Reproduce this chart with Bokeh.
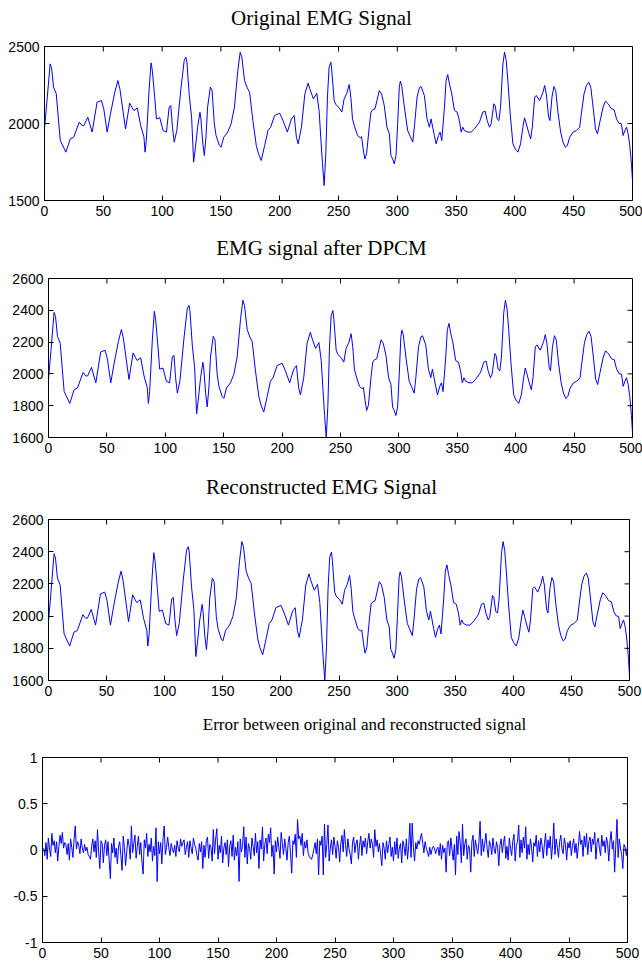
import math
from bokeh.plotting import figure
from bokeh.layouts import column, row
from bokeh.models import LinearAxis, FixedTicker, Range1d, Label
from bokeh.embed import file_html
from bokeh.resources import INLINE

# ---------------- data ----------------
titles = ["Original EMG Signal", "EMG signal after DPCM",
          "Reconstructed EMG Signal", "Error between original and reconstructed signal"]

x_ticks = [0, 50, 100, 150, 200, 250, 300, 350, 400, 450, 500]
y_ticks_orig = [1500, 2000, 2500]
y_ticks_dpcm = [1600, 1800, 2000, 2200, 2400, 2600]
y_ticks_err = [-1, -0.5, 0, 0.5, 1]
y_labels_err = ["-1", "-0.5", "0", "0.5", "1"]

emg_t = [0, 2, 4.8, 6, 7.7, 10, 13.4, 18.2, 21.9, 24.8, 29.6, 31.9, 33.5, 36.8, 40.5,
         44.7, 48.4, 50.4, 53.3, 56.1, 59.8, 62.4, 64.1, 68.9, 72.4, 74.6, 76, 78.9,
         81.8, 84.6, 85.5, 86.6, 88.9, 90.6, 91.7, 93.7, 95.2, 98, 100.9, 103.7, 106,
         107.4, 108.8, 110.3, 112.5, 116, 118.8, 120.2, 121.1, 123.1, 125.1, 126.8,
         128.2, 130.2, 132.2, 133, 134.5, 135.9, 137.3, 138.7, 141, 142.5, 144.4, 145.9,
         148.7, 150.1, 152.4, 155.8, 158.7, 161.5, 164.4, 166.4, 167.8, 170.1, 172.4,
         174.4, 177.2, 180.1, 182, 184.3, 187.2, 190, 192.3, 195.7, 200, 202.8, 206.5,
         210, 212.3, 214.2, 215.7, 218.5, 221.4, 224.2, 225.6, 228.7, 231.5, 233.5,
         234.9, 236.4, 237.8, 239.2, 240.6, 242, 243.5, 244.3, 246.3, 247.7, 250.6,
         252.8, 254.8, 257.1, 259.1, 260.5, 261.9, 263.4, 266.2, 268.5, 269.6, 271,
         272.4, 273.9, 276.1, 277.6, 279, 281, 282.7, 284.7, 286.6, 288.9, 291.2, 293.2,
         294.6, 296, 297.4, 298.9, 300.3, 301.7, 302.6, 303.7, 306, 308.8, 311.1, 313.1,
         314.5, 316.8, 318.8, 320.2, 323, 325.3, 327.3, 328.7, 330.1, 331.5, 333, 335,
         336.4, 337.8, 340.1, 341.5, 342.9, 344.3, 346.3, 348.6, 350.9, 352.8, 354.3,
         355.7, 357.1, 360, 362.8, 365.6, 369.9, 372.7, 374.7, 376.4, 378.4, 379.8,
         382.1, 383.2, 384.9, 386.4, 387.8, 389.8, 391.2, 392.6, 394, 396, 398.3, 400.3,
         402.6, 404.8, 406.8, 408.2, 409.7, 411.6, 413.4, 414.8, 416.8, 418.2, 421,
         423.9, 425.3, 426.7, 428.7, 429.8, 431.5, 433.2, 434.7, 436.6, 438.9, 440.9,
         442.9, 444.6, 446.6, 449.4, 452.3, 455.1, 456.5, 458.8, 460.8, 462.8, 464.5,
         466.5, 468.5, 470.2, 472.2, 475, 477, 479.3, 482.1, 484.4, 486.4, 488.4, 490.6,
         492, 493.5, 494.9, 496.3, 497.7, 499.1, 500]

emg_v = [1965, 2138, 2387, 2361, 2236, 2193, 1890, 1814, 1900, 1911, 2009, 1987, 1987,
         2041, 1944, 2138, 2149, 2095, 1944, 2063, 2203, 2279, 2225, 1965, 2132, 2101,
         2084, 2101, 1987, 1911, 1814, 1889, 2214, 2394, 2344, 2171, 2030, 2037, 1954,
         1944, 2106, 2117, 1976, 1879, 1954, 2225, 2409, 2431, 2398, 2182, 2041, 1749,
         1835, 1976, 2073, 2030, 1879, 1792, 1911, 2106, 2236, 2214, 1998, 1922, 1857,
         1846, 1911, 1944, 1998, 2106, 2344, 2463, 2431, 2279, 2232, 2203, 2019, 1857,
         1803, 1760, 1857, 1954, 1976, 2052, 2067, 2019, 1944, 2030, 2052, 1911, 1868,
         1976, 2193, 2262, 2225, 2160, 2197, 2084, 1911, 1738, 1597, 1803, 2171, 2366,
         2398, 2344, 2149, 2123, 2102, 2074, 2160, 2197, 2253, 2171, 2030, 1987, 1922,
         1907, 1915, 1835, 1770, 1803, 1976, 2074, 2089, 2095, 2149, 2214, 2193, 2117,
         1976, 1933, 1792, 1770, 1738, 1792, 1998, 2236, 2275, 2247, 2106, 1954, 1915,
         1879, 1976, 2171, 2232, 2240, 2182, 2030, 1976, 2030, 1976, 1922, 1868, 1922,
         1944, 1889, 2106, 2279, 2318, 2258, 2193, 2084, 2074, 2019, 1944, 1976, 1954,
         1944, 1944, 1965, 2009, 2074, 2080, 2019, 1976, 1998, 2128, 2117, 2030, 2019,
         2106, 2387, 2463, 2409, 2279, 2063, 1868, 1835, 1814, 1868, 1976, 2037, 1998,
         1944, 1900, 1976, 2171, 2182, 2149, 2203, 2247, 2193, 2041, 2019, 2171, 2240,
         2214, 2074, 1944, 1879, 1846, 1857, 1911, 1944, 1954, 1976, 2063, 2193, 2247,
         2268, 2236, 2106, 1965, 1933, 2009, 2106, 2145, 2128, 2095, 2089, 2030, 2002,
         1998, 1922, 1954, 1976, 1933, 1857, 1738, 1630]

err_v = [0.02, -0.06, 0.08, -0.1, 0.13, 0.01, -0.07, 0.18, 0.05, 0.1,
         -0.03, 0.09, -0.12, 0.04, 0.16, 0.07, 0.19, 0.02, 0.08, 0.06,
         -0.05, 0.07, -0.11, 0.12, 0.03, -0.08, 0.11, 0.26, 0.01, 0.09,
         0.05, -0.04, 0.12, 0.02, -0.03, 0.06, -0.01, 0.03, -0.05, -0.07,
         -0.1, 0.04, 0.12, -0.02, 0.1, -0.08, 0.22, -0.02, -0.2, 0.1,
         0.07, -0.14, 0.05, 0.11, -0.06, 0.09, -0.12, -0.31, 0.07, -0.03,
         0.13, -0.08, 0.02, -0.15, 0.04, 0.09, -0.06, -0.22, 0.15, 0.03,
         -0.17, -0.02, 0.12, 0.05, -0.1, 0.26, -0.03, 0.07, 0.16, -0.09,
         0.04, 0.15, -0.05, 0.08, -0.13, -0.26, 0.11, 0.02, 0.18, -0.07,
         0.06, -0.02, 0.13, -0.12, 0.04, -0.06, 0.24, -0.34, 0.09, -0.04,
         0.08, -0.15, 0.12, 0.26, -0.05, 0.03, 0.14, 0.02, -0.06, 0.07,
         0.01, -0.03, 0.05, -0.07, 0.1, 0.02, -0.02, 0.12, 0.04, 0.08,
         0.11, -0.05, 0.03, 0.09, -0.08, 0.1, 0.02, -0.04, 0.13, 0.06,
         0.02, -0.06, -0.11, 0.07, -0.02, 0.09, -0.2, 0.05, -0.08, 0.1,
         0.14, -0.09, 0.06, 0.03, -0.12, 0.22, -0.04, 0.12, 0.23, -0.1,
         0.05, -0.03, 0.15, -0.14, 0.02, 0.08, -0.05, 0.11, -0.18, 0.04,
         0.1, -0.07, 0.16, -0.11, 0.03, -0.06, 0.09, -0.34, 0.12, -0.02,
         0.05, 0.25, -0.08, 0.14, -0.15, 0.07, 0.02, -0.1, 0.13, 0.04,
         -0.06, 0.18, -0.03, 0.09, -0.2, 0.11, 0.01, 0.25, -0.12, 0.06,
         0.13, -0.04, 0.17, 0.08, 0.24, -0.07, 0.05, -0.26, 0.1, -0.02,
         0.14, 0.03, -0.09, 0.19, 0.07, -0.05, 0.12, 0.02, -0.11, 0.08,
         0.15, -0.04, -0.25, 0.1, 0.06, 0.17, -0.08, 0.33, 0.12, 0.15,
         0.05, 0.18, -0.06, 0.09, 0.02, 0.11, -0.03, -0.07, -0.09, -0.1,
         -0.05, 0.01, 0.08, -0.04, 0.12, -0.27, 0.1, 0.05, 0.15, -0.27,
         0.28, -0.08, 0.06, 0.27, -0.12, 0.02, 0.11, -0.05, 0.14, 0.04,
         -0.09, 0.1, 0.03, -0.13, 0.08, 0.16, -0.02, 0.22, 0.06, -0.07,
         0.12, 0.01, -0.05, -0.15, 0.09, 0.14, -0.03, 0.07, 0.11, -0.1,
         0.05, 0.15, -0.06, 0.1, 0.03, 0.13, -0.04, 0.09, 0.18, 0.02,
         0.12, 0.06, -0.08, 0.22, 0.04, 0.11, -0.02, 0.07, -0.05, -0.17,
         0.08, 0.02, -0.1, 0.1, -0.03, 0.06, 0.14, -0.07, 0.03, -0.12,
         0.09, -0.05, 0.13, -0.09, 0.02, 0.07, -0.14, 0.1, 0.04, -0.06,
         0.12, -0.1, 0.05, 0.29, -0.08, 0.29, 0.03, -0.12, 0.08, 0.01,
         0.1, 0.06, 0.13, 0.18, 0.07, -0.03, 0.09, 0.02, -0.02, -0.07,
         0.03, -0.05, 0.01, 0.04, 0.02, -0.04, 0.01, 0.03, -0.06, 0.07,
         -0.1, 0.05, -0.03, 0.02, -0.24, 0.08, 0.1, -0.06, 0.13, 0.01,
         -0.11, 0.06, -0.27, 0.15, -0.05, 0.2, 0.08, -0.14, 0.28, -0.06,
         0.07, 0.12, -0.1, 0.05, 0.02, -0.24, 0.09, 0.16, -0.07, 0.11,
         0.03, -0.04, 0.08, 0.31, -0.06, 0.12, -0.02, 0.07, 0.18, 0.02,
         -0.08, 0.1, 0.05, -0.05, 0.13, 0.01, -0.04, 0.09, 0.03, -0.17,
         0.06, 0.12, -0.03, 0.08, 0.15, -0.09, 0.04, -0.11, 0.13, 0.02,
         -0.06, 0.1, 0.17, -0.12, 0.05, 0.09, 0.27, -0.08, 0.11, -0.03,
         0.14, 0.02, 0.25, -0.1, 0.06, -0.05, 0.12, 0.03, -0.13, 0.08,
         0.04, 0.16, -0.07, 0.1, -0.02, 0.13, 0.05, -0.09, 0.07, 0.18,
         -0.06, 0.11, 0.02, 0.15, -0.1, 0.06, 0.29, -0.05, 0.12, 0.03,
         -0.08, 0.09, 0.16, 0.01, -0.04, 0.13, 0.06, -0.11, 0.08, 0.02,
         0.1, -0.06, 0.05, 0.12, -0.03, 0.07, -0.09, 0.04, 0.2, 0.06,
         0.11, -0.07, 0.15, 0.03, 0.18, -0.05, 0.09, 0.14, -0.02, 0.12,
         0.06, 0.19, -0.1, 0.08, 0.13, 0.02, -0.06, 0.16, 0.04, 0.1,
         -0.03, 0.14, 0.07, -0.12, 0.09, 0.2, 0.01, 0.1, -0.24, 0.05,
         0.33, -0.08, 0.12, 0.02, -0.05, -0.2, 0.06, 0.03, -0.06, 0.04]
err_t = list(range(1, len(err_v) + 1))

LINE_COLOR = "#0000ff"
TICK_FONT = "Liberation Sans"
TITLE_FONT = "Liberation Serif"
TITLE_LEFT = 48
TITLE_FW = 584


def style_axis(ax, ticks, standoff=3, overrides=None):
    ax.ticker = FixedTicker(ticks=ticks)
    ax.major_tick_in = 5
    ax.major_tick_out = 0
    ax.minor_tick_in = 0
    ax.minor_tick_out = 0
    ax.axis_line_color = "black"
    ax.major_tick_line_color = "black"
    ax.major_label_text_font = TICK_FONT
    ax.major_label_text_color = "black"
    ax.major_label_text_font_size = "14px"
    ax.major_label_standoff = standoff
    if overrides:
        ax.major_label_overrides = overrides


def make_title(text, tsize, h, center_from_top, center_x):
    t = figure(frame_width=TITLE_FW, frame_height=h, output_backend="svg",
               toolbar_location=None, x_range=Range1d(0, 1), y_range=Range1d(0, 1),
               min_border_left=TITLE_LEFT, min_border_right=10, min_border_top=0,
               min_border_bottom=0, x_axis_type=None, y_axis_type=None)
    t.outline_line_color = None
    t.grid.visible = False
    t.background_fill_color = "white"
    t.border_fill_color = "white"
    lab = Label(x=center_x - TITLE_LEFT, y=h - center_from_top, x_units="screen",
                y_units="screen", text=text, text_align="center",
                text_baseline="middle", text_font=TITLE_FONT,
                text_font_size=tsize, text_color="black")
    t.add_layout(lab)
    return t


def make_panel(xs, ys, yr, yticks, fw, fh, bl, bt, bb, br, overrides=None):
    p = figure(frame_width=fw, frame_height=fh, output_backend="svg",
               toolbar_location=None, x_range=Range1d(0, 500),
               y_range=Range1d(yr[0], yr[1]), min_border_left=bl,
               min_border_top=bt, min_border_bottom=bb, min_border_right=br,
               x_axis_type=None, y_axis_type=None)
    p.background_fill_color = "white"
    p.border_fill_color = "white"
    p.outline_line_color = "black"
    p.grid.visible = False
    p.line(xs, ys, line_color=LINE_COLOR, line_width=1)

    # inward tick marks on the top and right edges of the box
    p.scatter(x_ticks, [yr[1]] * len(x_ticks), marker="dash", size=10,
              angle=math.pi / 2, line_color="black", line_width=1)
    p.scatter([500] * len(yticks), yticks, marker="dash", size=10,
              line_color="black", line_width=1)

    xb = LinearAxis()
    style_axis(xb, x_ticks, 5)
    p.add_layout(xb, "below")
    yl = LinearAxis()
    style_axis(yl, yticks, 5, overrides)
    p.add_layout(yl, "left")
    return p


err_over = {t: l for t, l in zip(y_ticks_err, y_labels_err)}

t1 = make_title(titles[0], "21px", 36, 17, 321)
p1 = make_panel(emg_t, emg_v, (1500, 2500), y_ticks_orig, 588, 154, 44, 10, 32, 10)
t2 = make_title(titles[1], "21px", 30, 15, 321)
p2 = make_panel(emg_t, emg_v, (1600, 2600), y_ticks_dpcm, 584, 159, 48, 16, 31, 10)
t3 = make_title(titles[2], "21px", 32, 18, 321)
p3 = make_panel(emg_t, emg_v, (1600, 2600), y_ticks_dpcm, 581, 161, 48, 19, 28, 13)
t4 = make_title(titles[3], "17px", 30, 16, 364)
p4 = make_panel(err_t, err_v, (-1, 1), y_ticks_err, 585, 185, 42, 19, 22, 15, err_over)

layout = column(row(t1), row(p1), row(t2), row(p2), row(t3), row(p3),
                row(t4), row(p4), spacing=0)
open("out.html", "w").write(file_html(layout, INLINE))
